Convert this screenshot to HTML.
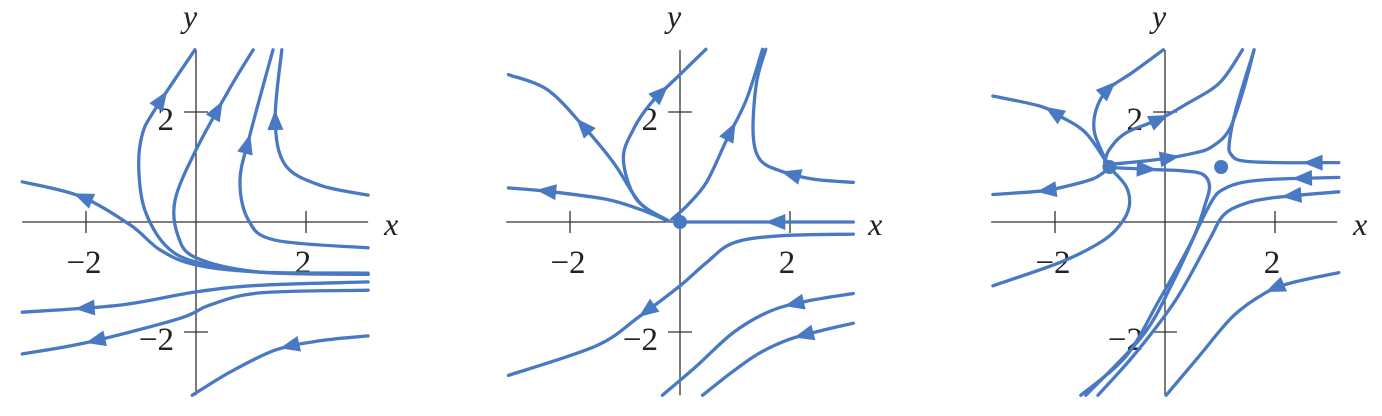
<!DOCTYPE html>
<html><head><meta charset="utf-8"><style>
html,body{margin:0;padding:0;background:#fff;width:1382px;height:416px;overflow:hidden}
svg text{font-family:"Liberation Serif",serif;fill:#222}
</style></head><body>
<svg id="fig" width="1382" height="416" viewBox="0 0 1382 416" xmlns="http://www.w3.org/2000/svg"></svg>
<script>
// ---- data (in data units) ----
const panelOrigins = [196, 680, 1165];
const tickValues = [-2, 2];
const tickLabels = ["\u22122", "2"];
const p1Curves = [
 [[3.13,-0.93],[1.16,-0.91],[0,-0.78],[-0.65,-0.51],[-1.2,-0.05],[-2.11,0.47],[-3.16,0.73]],
 [[3.13,-0.95],[1.16,-0.91],[0,-0.73],[-0.56,-0.42],[-0.93,0.22],[-1.04,0.95],[-0.98,1.58],[-0.75,2.04],[-0.02,3.13]],
 [[3.13,-0.95],[1.16,-0.91],[0,-0.65],[-0.33,-0.24],[-0.38,0.4],[0,1.31],[0.62,2.44],[1.04,3.13]],
 [[3.13,-0.47],[1.44,-0.33],[0.95,0.04],[0.8,0.76],[0.98,1.58],[1.4,3.13]],
 [[3.13,0.49],[2.25,0.67],[1.62,1.04],[1.44,1.85],[1.56,3.13]],
 [[3.13,-1.09],[1.16,-1.15],[0,-1.27],[-1.38,-1.51],[-3.16,-1.64]],
 [[3.13,-1.24],[1.16,-1.29],[0.25,-1.51],[-0.29,-1.75],[-1.93,-2.18],[-3.16,-2.4]],
 [[3.13,-2.07],[2.25,-2.16],[1.44,-2.33],[0.62,-2.73],[-0.07,-3.15]]
];
const p1Arrows = [0.83, 0.86, 0.83, 0.68, 0.66, 0.82, 0.79, 0.42];
const p1Dots = [];
const p2Curves = [
 [[-0.21,0.02],[-0.73,0.23],[-1.33,0.41],[-2.33,0.55],[-3.12,0.62]],
 [[-0.24,0.02],[-0.73,0.35],[-1.21,1.08],[-1.79,1.78],[-2.42,2.41],[-3.12,2.68]],
 [[-0.21,0.02],[-0.79,0.41],[-1.03,1.14],[-0.85,1.68],[-0.52,2.17],[0,2.68],[0.47,3.14]],
 [[-0.15,0.05],[0.12,0.29],[0.48,0.72],[0.85,1.5],[1.21,2.23],[1.5,3.14]],
 [[3.15,0.72],[2.42,0.78],[1.82,0.93],[1.45,1.14],[1.33,1.62],[1.39,2.53],[1.56,3.14]],
 [[3.15,0],[1.5,0],[0,0]],
 [[3.15,-0.22],[1.82,-0.25],[0.97,-0.38],[0.48,-0.74],[0,-1.16],[-0.73,-1.71],[-1.52,-2.25],[-3.12,-2.79]],
 [[3.15,-1.3],[2.3,-1.44],[1.64,-1.62],[0.97,-2.01],[0.3,-2.62],[-0.32,-3.15]],
 [[3.15,-1.84],[2.55,-1.98],[2.0,-2.13],[1.45,-2.38],[0.97,-2.71],[0.41,-3.15]]
];
const p2Arrows = [0.77, 0.58, 0.72, 0.55, 0.3, 0.45, 0.6, 0.27, 0.3];
const p2Dots = [[0,0]];
const p3Curves = [
 [[-1.04,1.05],[-1.44,1.62],[-1.92,1.93],[-2.28,2.11],[-3.13,2.29]],
 [[-1.04,1.05],[-1.28,1.62],[-1.25,2.05],[-1.04,2.41],[-0.59,2.72],[-0.03,3.13]],
 [[-1.1,1.08],[-1.01,1.32],[-0.71,1.62],[-0.1,1.87],[0.38,2.14],[0.99,2.53],[1.41,3.13]],
 [[-1.04,0.96],[-1.32,0.78],[-1.92,0.62],[-2.28,0.56],[-3.13,0.5]],
 [[-0.98,1.05],[-0.1,1.14],[0.56,1.26],[0.87,1.38],[1.17,1.68],[1.41,2.35],[1.62,3.13]],
 [[-0.98,0.99],[-0.1,0.95],[0.32,0.93],[0.68,0.87],[0.81,0.65],[0.72,0.29],[0.5,-0.32],[-0.1,-1.41],[-0.71,-2.44],[-1.53,-3.15]],
 [[-1.01,0.99],[-0.71,0.65],[-0.65,0.29],[-0.83,-0.07],[-1.19,-0.38],[-1.92,-0.74],[-3.13,-1.16]],
 [[3.16,1.08],[2.08,1.08],[1.41,1.11],[1.2,1.23],[1.17,1.44],[1.29,2.05],[1.62,3.13]],
 [[3.16,0.81],[2.02,0.78],[1.41,0.72],[1.05,0.59],[0.87,0.41],[0.62,-0.07],[0.14,-1.1],[-0.41,-2.07],[-1.44,-3.15]],
 [[3.16,0.55],[1.96,0.44],[1.41,0.32],[1.05,0.11],[0.81,-0.32],[0.2,-1.41],[-0.53,-2.38],[-1.22,-3.15]],
 [[3.16,-0.92],[2.32,-1.1],[1.84,-1.28],[1.24,-1.71],[0.62,-2.44],[0.02,-3.15]]
];
const p3Arrows = [0.55, 0.55, 0.4, 0.55, 0.28, 0.1, -1, 0.12, 0.1, 0.14, 0.3];
const p3Dots = [[-1.01,1.0],[1.02,1.0]];

const SCALE = 55, Y0 = 222, COLOR = "#4879c2";
const NS = "http://www.w3.org/2000/svg";
const svg = document.getElementById("fig");
function el(tag, attrs, parent){const e=document.createElementNS(NS,tag);for(const k in attrs)e.setAttribute(k,attrs[k]);(parent||svg).appendChild(e);return e;}
function sx(p,x){return panelOrigins[p]+SCALE*x;}
function sy(y){return Y0-SCALE*y;}
function smoothPath(pts){
  let d="M"+pts[0][0].toFixed(1)+","+pts[0][1].toFixed(1);
  for(let i=0;i<pts.length-1;i++){
    const p0=pts[i-1]||pts[i],p1=pts[i],p2=pts[i+1],p3=pts[i+2]||p2;
    const c1=[p1[0]+(p2[0]-p0[0])/6,p1[1]+(p2[1]-p0[1])/6];
    const c2=[p2[0]-(p3[0]-p1[0])/6,p2[1]-(p3[1]-p1[1])/6];
    d+=" C"+c1[0].toFixed(1)+","+c1[1].toFixed(1)+" "+c2[0].toFixed(1)+","+c2[1].toFixed(1)+" "+p2[0].toFixed(1)+","+p2[1].toFixed(1);
  }
  return d;
}
const panels=[[p1Curves,p1Arrows,p1Dots],[p2Curves,p2Arrows,p2Dots],[p3Curves,p3Arrows,p3Dots]];
panels.forEach(([curves,arrows,dots],p)=>{
  const g=el("g",{});
  
  
  const xa=el("line",{x1:sx(p,-3.16),y1:Y0,x2:sx(p,3.13),y2:Y0,stroke:"#333","stroke-width":1.3},g);
  
  
  const ya=el("line",{x1:sx(p,0),y1:sy(3.13),x2:sx(p,0),y2:sy(-3.15),stroke:"#333","stroke-width":1.3},g);
  
  
  tickValues.forEach((v,i)=>{
    const t1=el("line",{x1:sx(p,v),y1:Y0-11,x2:sx(p,v),y2:Y0+11,stroke:"#333","stroke-width":1.3},g);
    
    
    const t2=el("line",{x1:sx(p,0)-12,y1:sy(v),x2:sx(p,0)+12,y2:sy(v),stroke:"#333","stroke-width":1.3},g);
    
    
    const l1=el("text",{x:sx(p,v)-(v<0?2:3),y:Y0+51,"font-size":33,"text-anchor":"middle"},g);
    l1.textContent=tickLabels[i];
    
    
    const l2=el("text",{x:sx(p,0)-22,y:sy(v)+18,"font-size":33,"text-anchor":"end"},g);
    l2.textContent=tickLabels[i];
    
    
  });
  const xl=el("text",{x:sx(p,3.13)+16,y:Y0+13,"font-size":32,"font-style":"italic"},g);
  xl.textContent="x";
  
  
  const yl=el("text",{x:sx(p,0)-13,y:27,"font-size":32,"font-style":"italic"},g);
  yl.textContent="y";
  
  
  curves.forEach((c,i)=>{
    const pts=c.map(q=>[sx(p,q[0]),sy(q[1])]);
    const path=el("path",{d:smoothPath(pts),fill:"none",stroke:COLOR,"stroke-width":3.3,"stroke-linecap":"round"},g);
    
    
    const f=arrows[i];
    if(f>=0){
      const L=path.getTotalLength();
      const a=path.getPointAtLength(L*f),b=path.getPointAtLength(Math.min(L,L*f+3)),a0=path.getPointAtLength(Math.max(0,L*f-3));
      const ang=Math.atan2(b.y-a0.y,b.x-a0.x)*180/Math.PI;
      const ar=el("polygon",{points:"10,0 -10,-8 -10,8",fill:COLOR,transform:"translate("+a.x.toFixed(1)+","+a.y.toFixed(1)+") rotate("+ang.toFixed(1)+")"},g);
      
      
    }
  });
  dots.forEach(d=>{
    const c=el("circle",{cx:sx(p,d[0]),cy:sy(d[1]),r:7,fill:COLOR},g);
    
    
  });
});
</script>
</body></html>
